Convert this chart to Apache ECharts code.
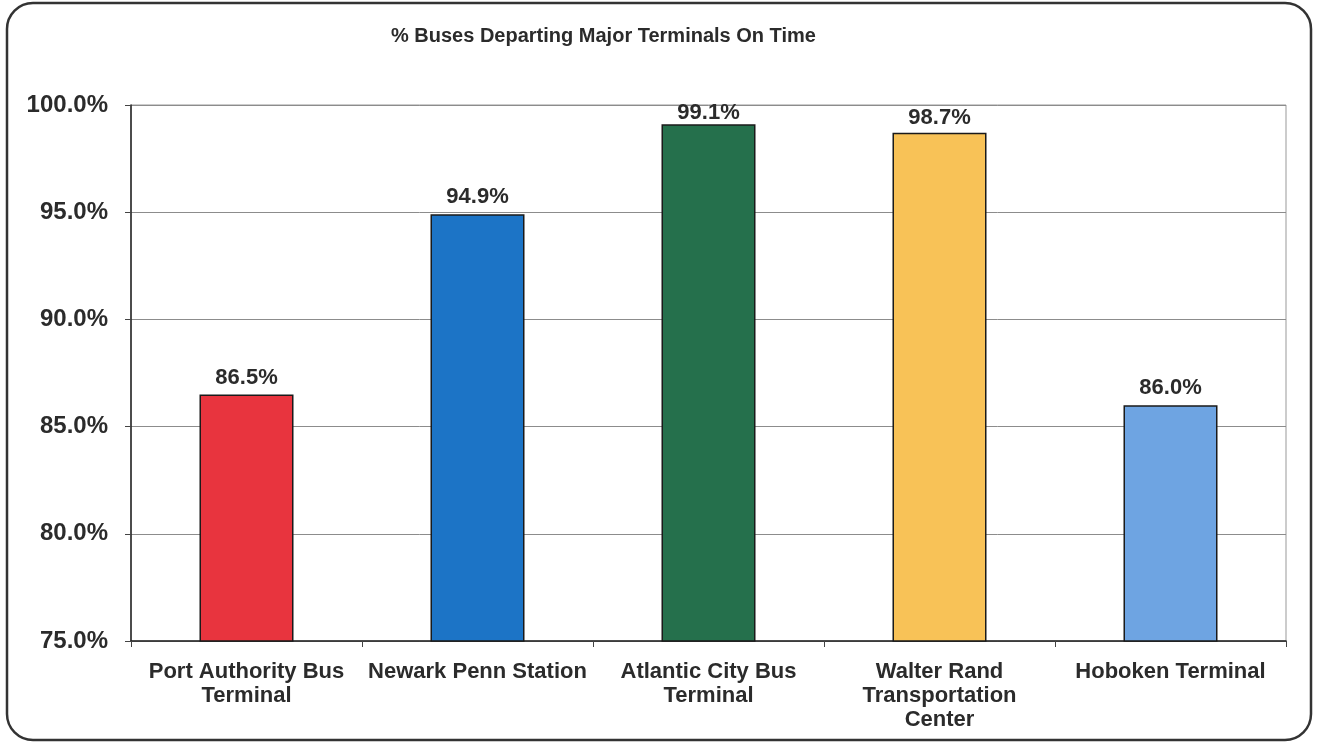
<!DOCTYPE html>
<html>
<head>
<meta charset="utf-8">
<script src="https://cdn.jsdelivr.net/npm/echarts@6/dist/echarts.min.js"></script>
<style>
html,body{margin:0;padding:0;background:#fff;}
#chart{width:1319px;height:746px;}
</style>
</head>
<body>
<div id="chart"></div>
<script>
const categories = [
  "Port Authority Bus\nTerminal",
  "Newark Penn Station",
  "Atlantic City Bus\nTerminal",
  "Walter Rand\nTransportation\nCenter",
  "Hoboken Terminal"
];
const values = [86.5, 94.9, 99.1, 98.7, 86.0];
const barColors = ["#E8343E", "#1C74C6", "#25704C", "#F8C257", "#6EA4E2"];
const labelGaps = [6, 6, 0, 4, 6];
const yMin = 75, yMax = 100, yStep = 5;
const titleText = "% Buses Departing Major Terminals On Time";

const chart = echarts.init(document.getElementById('chart'));
const FONT = '"Liberation Sans", Arial, sans-serif';
chart.setOption({
  animation: false,
  backgroundColor: '#fff',
  title: {
    text: titleText,
    left: 386, top: 21,
    textStyle: {fontFamily: FONT, fontSize: 20, fontWeight: 'bold', color: '#2b2b2b'}
  },
  graphic: [
    {
      type: 'rect', z: 100,
      shape: {x: 7, y: 3, width: 1304, height: 737, r: 26},
      style: {fill: 'none', stroke: '#333', lineWidth: 2.5}
    }
  ],
  grid: {left: 131, right: 33, top: 105, bottom: 105, show: true, borderColor: '#999', borderWidth: 1},
  xAxis: {
    type: 'category',
    data: categories,
    axisLine: {show: true, lineStyle: {color: '#222', width: 1.5}},
    axisTick: {show: true, length: 6, alignWithLabel: false, lineStyle: {color: '#444'}},
    axisLabel: {
      interval: 0, margin: 19, fontFamily: FONT, fontSize: 22, fontWeight: 'bold',
      color: '#2b2b2b', lineHeight: 24
    }
  },
  yAxis: {
    type: 'value', min: yMin, max: yMax, interval: yStep,
    axisLine: {show: true, lineStyle: {color: '#222', width: 1.5}},
    axisTick: {show: true, length: 6, lineStyle: {color: '#444'}},
    splitLine: {show: true, lineStyle: {color: '#8c8c8c', width: 1}},
    axisLabel: {
      margin: 23, fontFamily: FONT, fontSize: 24, fontWeight: 'bold', color: '#2b2b2b',
      formatter: v => v.toFixed(1) + '%'
    }
  },
  series: [{
    type: 'bar',
    barWidth: '40.7%',
    data: values.map((v, i) => ({
      value: v,
      itemStyle: {color: barColors[i]},
      label: {distance: labelGaps[i]}
    })),
    itemStyle: {borderColor: '#1a1a1a', borderWidth: 1.5},
    label: {
      show: true, position: 'top',
      fontFamily: FONT, fontSize: 22, fontWeight: 'bold', color: '#2b2b2b',
      formatter: p => p.value.toFixed(1) + '%'
    }
  }]
});
</script>
</body>
</html>
